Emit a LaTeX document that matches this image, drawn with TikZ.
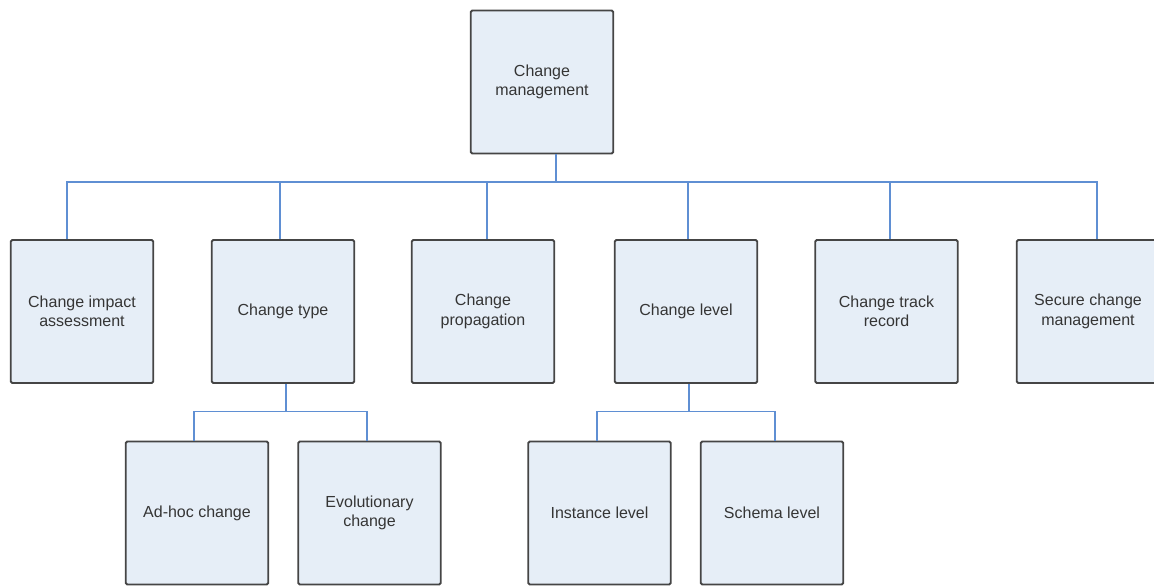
\documentclass[tikz,border=0pt]{standalone}
\usepackage{fontspec}
\setmainfont{Liberation Sans}
\begin{document}
\begin{tikzpicture}[x=1pt,y=-1pt,
  box/.style={draw=boxline,fill=boxfill,line width=1.8pt,rounded corners=1.5pt,
    minimum width=142.5pt,minimum height=143pt,inner sep=2pt,align=center,
    text=boxtext,font=\fontsize{16}{19.5}\selectfont},
  link/.style={draw=linkblue,line width=1.4pt}]
\definecolor{boxfill}{HTML}{E6EEF7}
\definecolor{boxline}{HTML}{454545}
\definecolor{boxtext}{HTML}{353535}
\definecolor{linkblue}{HTML}{5F8FD3}
\useasboundingbox (0,0) rectangle (1154,586);

% root
\node[box] (top) at (542,82) {Change\\management};
% second level
\node[box] (b1) at (82,311.5) {Change impact\\assessment};
\node[box] (b2) at (283,311.5) {Change type};
\node[box] (b3) at (483,311.5) {Change\\propagation};
\node[box] (b4) at (686,311.5) {Change level};
\node[box] (b5) at (886.5,311.5) {Change track\\record};
\node[box] (b6) at (1088,311.5) {Secure change\\management};
% third level
\node[box] (c1) at (197,513) {Ad-hoc change};
\node[box] (c2) at (369.5,513) {Evolutionary\\change};
\node[box] (c3) at (599.5,513) {Instance level};
\node[box] (c4) at (772,513) {Schema level};

% root to second level, via the bus at y = 182
\draw[link] ([xshift=-15]b1.north) -- ++(0,-57) -| ([xshift=14]top.south);
\draw[link] ([xshift=-3]b2.north) -- ++(0,-57) -| ([xshift=14]top.south);
\draw[link] ([xshift=4]b3.north) -- ++(0,-57) -| ([xshift=14]top.south);
\draw[link] ([xshift=2]b4.north) -- ++(0,-57) -| ([xshift=14]top.south);
\draw[link] ([xshift=3.5]b5.north) -- ++(0,-57) -| ([xshift=14]top.south);
\draw[link] ([xshift=9]b6.north) -- ++(0,-57) -| ([xshift=14]top.south);

% change type to its children
\draw[link] ([xshift=-3]c1.north) -- ++(0,-29) -| ([xshift=3]b2.south);
\draw[link] ([xshift=-2.5]c2.north) -- ++(0,-29) -| ([xshift=3]b2.south);

% change level to its children
\draw[link] ([xshift=-2.5]c3.north) -- ++(0,-29) -| ([xshift=3]b4.south);
\draw[link] ([xshift=3]c4.north) -- ++(0,-29) -| ([xshift=3]b4.south);
\end{tikzpicture}
\end{document}
